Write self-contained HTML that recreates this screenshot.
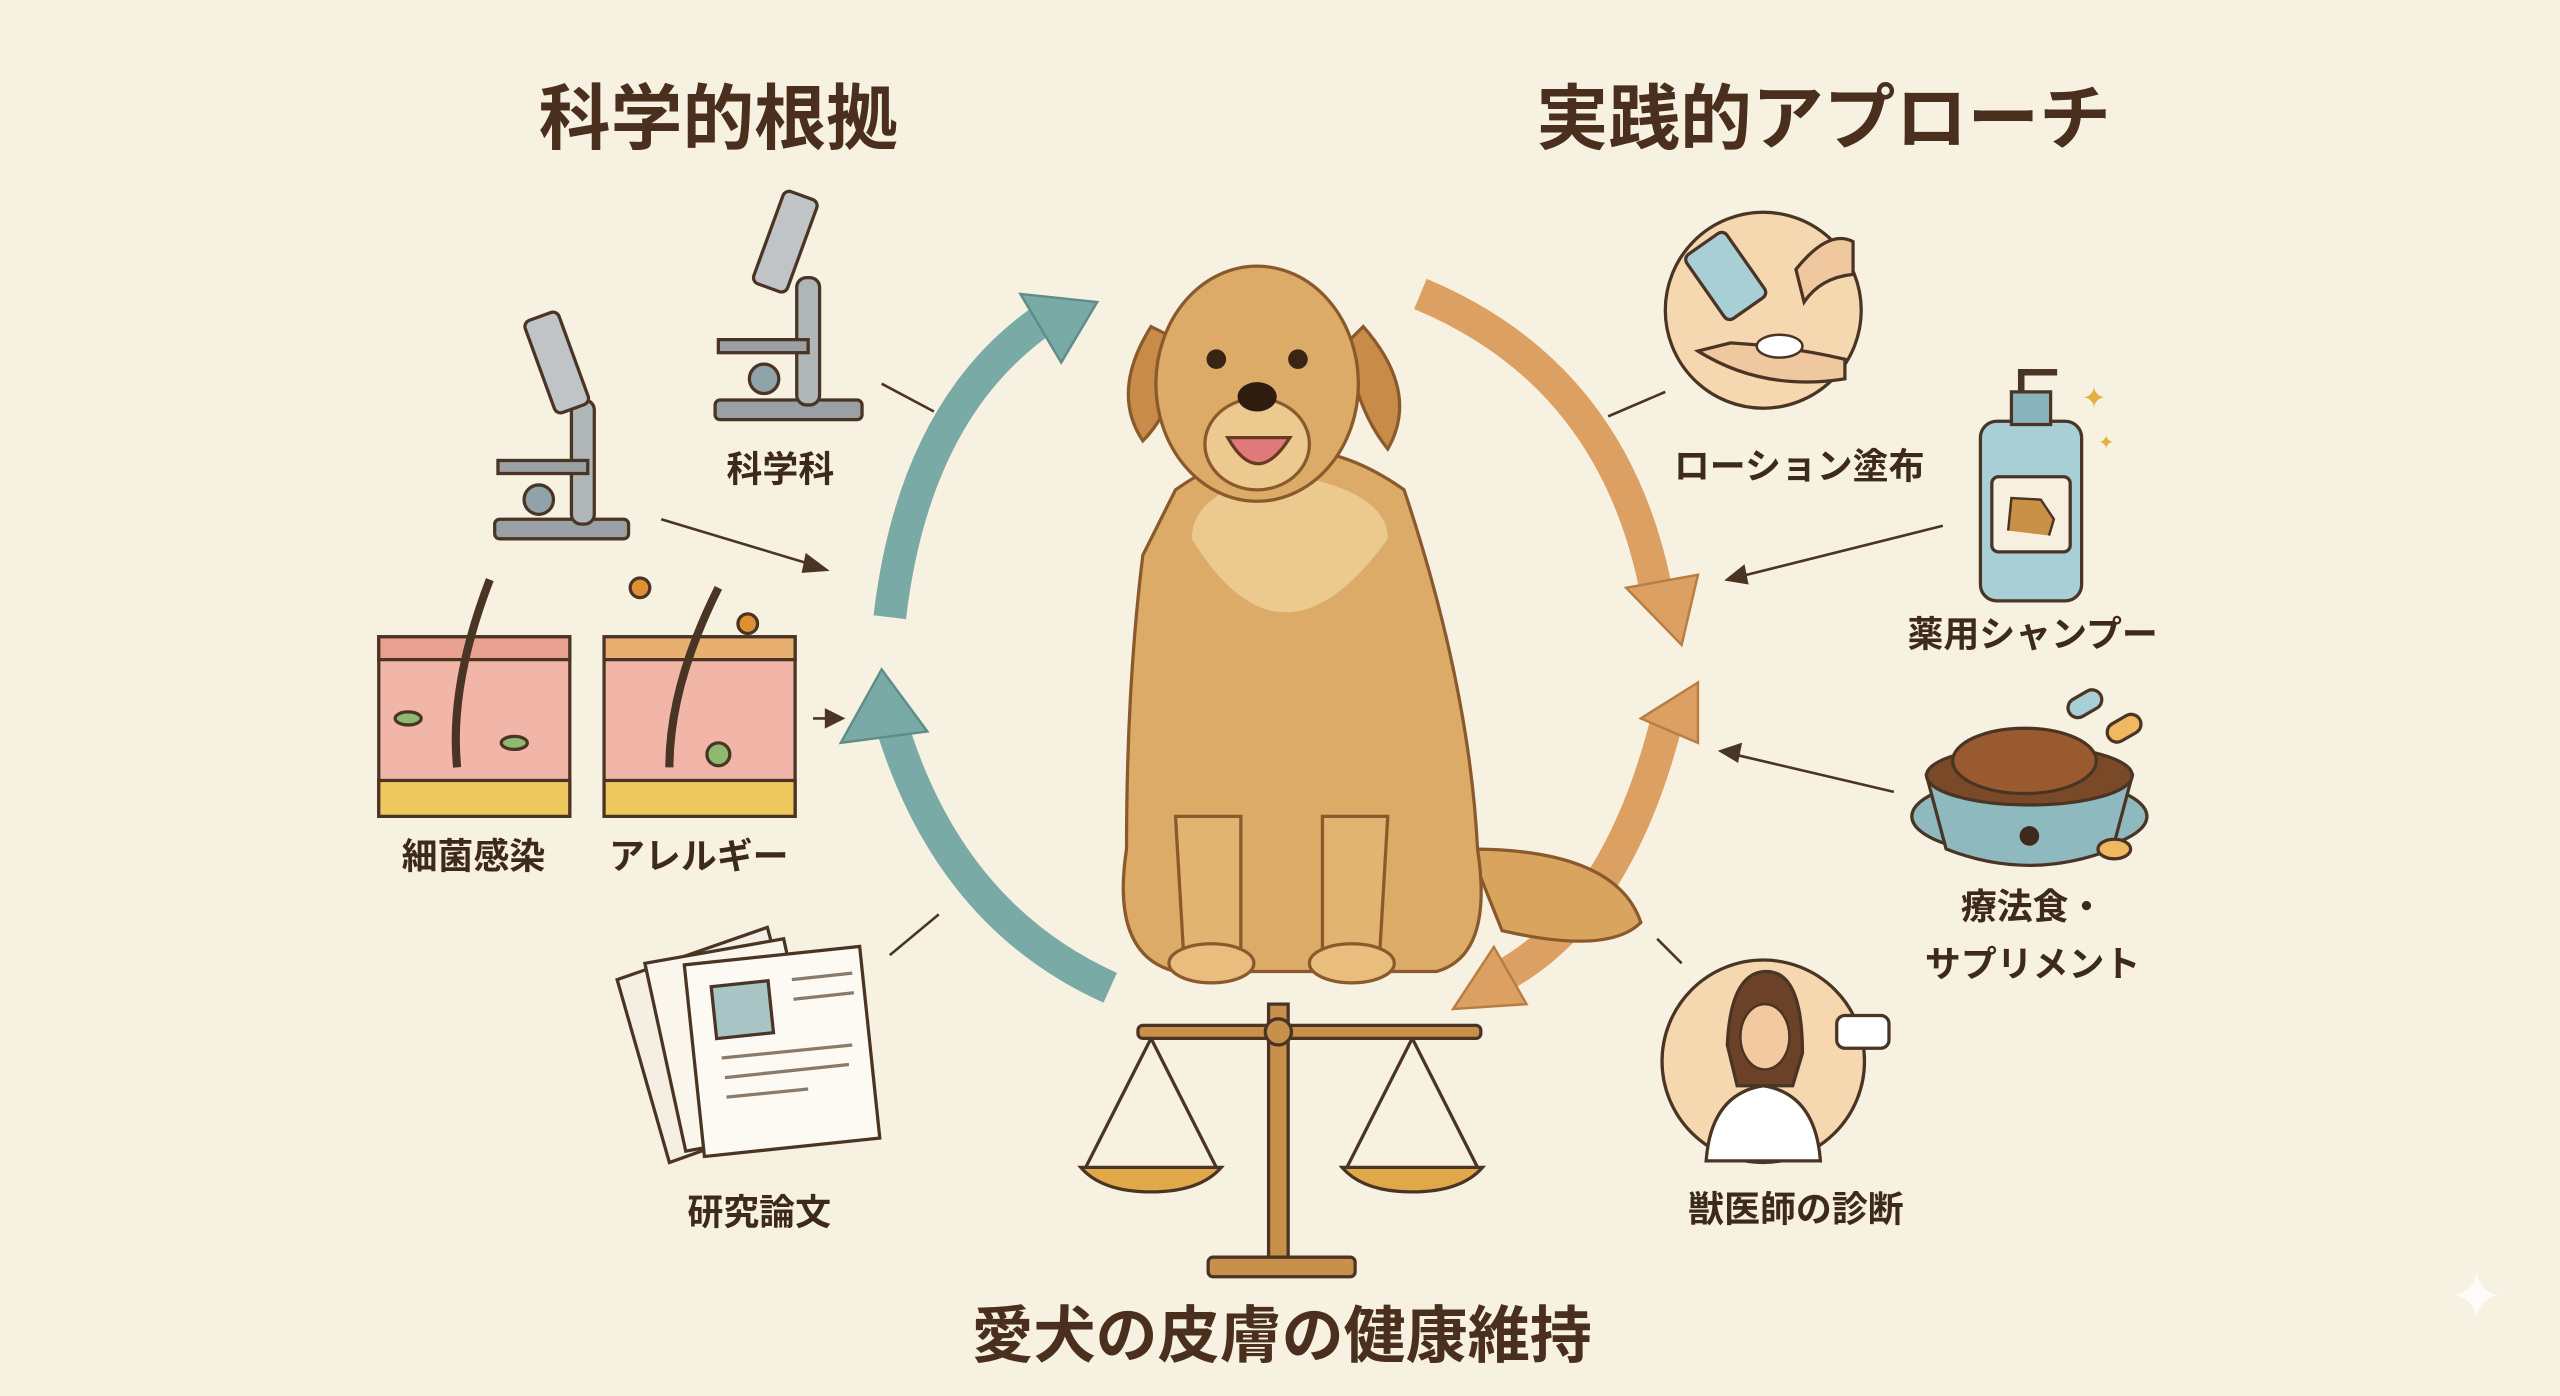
<!DOCTYPE html>
<html><head><meta charset="utf-8"><style>
html,body{margin:0;padding:0;background:#f7f1e1;}
svg{display:block;}
text{font-family:"Liberation Sans","Noto Sans CJK JP",sans-serif;fill:#3e2a1c;}
</style></head><body>
<svg width="2560" height="1396" viewBox="0 0 1568 855" xmlns="http://www.w3.org/2000/svg">
<rect width="1568" height="855" fill="#f7f1e1"/>
<!-- Titles -->
<text x="440" y="88" font-size="44" font-weight="bold" text-anchor="middle" style="fill:#4a2f1e">科学的根拠</text>
<text x="1117" y="88" font-size="44" font-weight="bold" text-anchor="middle" style="fill:#4a2f1e">実践的アプローチ</text>
<text x="785" y="831" font-size="38" font-weight="bold" text-anchor="middle" style="fill:#4a2f1e">愛犬の皮膚の健康維持</text>
<!-- labels -->
<g font-size="22" font-weight="bold" text-anchor="middle">
<text x="478" y="295">科学科</text>
<text x="290" y="532">細菌感染</text>
<text x="428" y="532">アレルギー</text>
<text x="465" y="750">研究論文</text>
<text x="1102" y="293">ローション塗布</text>
<text x="1245" y="396">薬用シャンプー</text>
<text x="1245" y="563">療法食・</text>
<text x="1245" y="598">サプリメント</text>
<text x="1100" y="748">獣医師の診断</text>
</g>
<!-- cycle arrows -->
<g fill="none" stroke-width="20" stroke-linecap="butt">
<path d="M545,378 Q560,250 640,195" stroke="#79aaa6"/>
<path d="M680,605 Q580,560 545,440" stroke="#79aaa6"/>
<path d="M870,180 Q990,230 1015,365" stroke="#dca062"/>
<path d="M1020,445 Q990,560 920,598" stroke="#dca062"/>
</g>
<g stroke="#5f8e8a" stroke-width="1.5" fill="#79aaa6">
<polygon points="672,185 625,180 650,222"/>
<polygon points="540,410 515,455 568,448"/>
</g>
<g stroke="#b87d43" stroke-width="1.5" fill="#dca062">
<polygon points="1030,395 996,360 1040,352"/>
<polygon points="1040,418 1005,440 1040,455" />
<polygon points="890,618 915,580 935,615"/>
</g>
<!-- connectors -->
<g stroke="#4a3525" stroke-width="1.6" fill="#4a3525">
<line x1="540" y1="235" x2="572" y2="252"/>
<line x1="405" y1="318" x2="498" y2="346"/><polygon points="506,349 494,340 492,350"/>
<line x1="498" y1="440" x2="508" y2="440"/><polygon points="516,440 506,435 506,445"/>
<line x1="545" y1="585" x2="575" y2="560"/>
<line x1="985" y1="255" x2="1020" y2="240"/>
<line x1="1190" y1="322" x2="1066" y2="353"/><polygon points="1058,355 1068,347 1070,357"/>
<line x1="1160" y1="485" x2="1062" y2="462"/><polygon points="1054,460 1066,456 1064,466"/>
<line x1="1015" y1="575" x2="1030" y2="590"/>
</g>
<!-- microscopes -->
<g stroke="#4a3525" stroke-width="2" fill="#9aa0a4">
<rect x="438" y="245" width="90" height="12" rx="3"/>
<rect x="488" y="170" width="14" height="78" rx="6" fill="#b0b5b8"/>
<rect x="440" y="208" width="55" height="8"/>
<rect x="470" y="118" width="22" height="60" rx="4" transform="rotate(20 481 148)" fill="#c0c4c6"/>
<circle cx="468" cy="232" r="9" fill="#8fa3a8"/>
<rect x="303" y="318" width="82" height="12" rx="3"/>
<rect x="350" y="245" width="14" height="76" rx="6" fill="#b0b5b8"/>
<rect x="305" y="282" width="55" height="8"/>
<rect x="330" y="192" width="22" height="60" rx="4" transform="rotate(-20 341 222)" fill="#c0c4c6"/>
<circle cx="330" cy="306" r="9" fill="#8fa3a8"/>
</g>
<!-- skin blocks -->
<g stroke="#4a3525" stroke-width="2">
<rect x="232" y="390" width="117" height="110" fill="#f1b6a8"/>
<rect x="232" y="390" width="117" height="14" fill="#e8a090"/>
<rect x="232" y="478" width="117" height="22" fill="#f0c860"/>
<path d="M280,470 Q275,420 300,355" fill="none" stroke-width="5"/>
<ellipse cx="250" cy="440" rx="8" ry="4" fill="#8fb870"/>
<ellipse cx="315" cy="455" rx="8" ry="4" fill="#8fb870"/>
<rect x="370" y="390" width="117" height="110" fill="#f1b6a8"/>
<rect x="370" y="390" width="117" height="14" fill="#e8b070"/>
<rect x="370" y="478" width="117" height="22" fill="#f0c860"/>
<path d="M410,470 Q410,420 440,360" fill="none" stroke-width="5"/>
<circle cx="440" cy="462" r="7" fill="#8fb870"/>
<circle cx="392" cy="360" r="6" fill="#e09030"/>
<circle cx="458" cy="382" r="6" fill="#e09030"/>
</g>
<!-- papers -->
<g stroke="#4a3525" stroke-width="2" fill="#f4efe2">
<polygon points="378,600 470,568 500,680 410,712"/>
<polygon points="395,590 480,575 505,690 420,705" fill="#faf6ec"/>
<rect x="425" y="585" width="108" height="118" transform="rotate(-6 479 644)" fill="#fdfaf3"/>
<rect x="440" y="600" width="35" height="32" fill="#a8c4c4" transform="rotate(-6 479 644)"/>
</g>
<g stroke="#8a7a6a" stroke-width="2">
<line x1="485" y1="600" x2="522" y2="596"/><line x1="486" y1="612" x2="523" y2="608"/>
<line x1="442" y1="648" x2="522" y2="640"/><line x1="444" y1="660" x2="520" y2="652"/><line x1="445" y1="672" x2="495" y2="667"/>
</g>
<!-- lotion circle -->
<circle cx="1080" cy="190" r="60" fill="#f5d7b0" stroke="#4a3525" stroke-width="2"/>
<rect x="1042" y="145" width="30" height="48" rx="4" transform="rotate(-35 1057 169)" fill="#a9cfd6" stroke="#4a3525" stroke-width="2"/>
<path d="M1040,215 Q1080,240 1130,232 L1130,220 Q1095,212 1060,210 Z" fill="#f0c8a0" stroke="#4a3525" stroke-width="2"/>
<ellipse cx="1090" cy="212" rx="14" ry="7" fill="#fff" stroke="#4a3525" stroke-width="1.5"/>
<path d="M1100,165 Q1120,140 1135,148 L1135,168 Q1115,170 1105,185 Z" fill="#f0c8a0" stroke="#4a3525" stroke-width="2"/>
<!-- bottle -->
<g stroke="#4a3525" stroke-width="2">
<rect x="1213" y="258" width="62" height="110" rx="10" fill="#a9cfd6"/>
<rect x="1232" y="240" width="24" height="20" fill="#8ab4bd"/>
<path d="M1238,240 L1238,228 L1260,228" fill="none" stroke-width="4"/>
<rect x="1220" y="292" width="48" height="46" rx="4" fill="#f7efe0"/>
<path d="M1230,325 L1232,305 L1250,306 L1258,318 L1255,328" fill="#c99048" stroke-width="1.5"/>
</g>
<text x="1275" y="250" font-size="18" style="fill:#e0b040">✦</text>
<text x="1285" y="275" font-size="12" style="fill:#e0b040">✦</text>
<!-- bowl -->
<g stroke="#4a3525" stroke-width="2">
<ellipse cx="1243" cy="500" rx="72" ry="24" fill="#8eb9bf"/>
<path d="M1180,475 L1192,520 Q1243,540 1294,520 L1306,475 Z" fill="#8eb9bf"/>
<ellipse cx="1243" cy="475" rx="63" ry="18" fill="#7a4a28"/>
<ellipse cx="1240" cy="466" rx="44" ry="20" fill="#9a5a30"/>
<rect x="1266" y="425" width="22" height="12" rx="6" fill="#a9cfd6" transform="rotate(-30 1277 431)"/>
<rect x="1290" y="440" width="22" height="12" rx="6" fill="#f0b860" transform="rotate(-30 1301 446)"/>
<ellipse cx="1295" cy="520" rx="10" ry="6" fill="#f0b860"/>
</g>
<circle cx="1243" cy="512" r="6" fill="#3e2a1c"/>
<!-- vet -->
<circle cx="1080" cy="650" r="62" fill="#f5d7b0" stroke="#4a3525" stroke-width="2"/>
<path d="M1045,711 Q1048,670 1080,665 Q1112,670 1115,711 Z" fill="#fff" stroke="#4a3525" stroke-width="2"/>
<path d="M1058,640 Q1060,595 1082,595 Q1104,595 1104,645 L1098,665 L1064,665 Z" fill="#6b4128" stroke="#4a3525" stroke-width="2"/>
<ellipse cx="1081" cy="635" rx="15" ry="20" fill="#f3c9a0" stroke="#4a3525" stroke-width="1.5"/>
<rect x="1125" y="622" width="32" height="20" rx="5" fill="#fff" stroke="#4a3525" stroke-width="2"/>
<!-- scale -->
<g stroke="#4a3525" stroke-width="2" fill="#c8904a">
<rect x="777" y="615" width="12" height="160"/>
<rect x="740" y="770" width="90" height="12" rx="3"/>
<rect x="697" y="628" width="210" height="8" rx="3"/>
<circle cx="783" cy="632" r="8"/>
<line x1="705" y1="636" x2="665" y2="715" fill="none"/><line x1="705" y1="636" x2="745" y2="715" fill="none"/>
<line x1="865" y1="636" x2="825" y2="715" fill="none"/><line x1="865" y1="636" x2="905" y2="715" fill="none"/>
<path d="M662,715 L748,715 Q735,730 705,730 Q675,730 662,715 Z" fill="#e0a848"/>
<path d="M822,715 L908,715 Q895,730 865,730 Q835,730 822,715 Z" fill="#e0a848"/>
</g>
<!-- dog -->
<g stroke="#8a5a2c" stroke-width="2">
<path d="M900,520 Q990,520 1005,565 Q985,585 920,570 Z" fill="#d9a55e"/>
<path d="M700,340 Q690,420 690,520 Q680,585 720,595 L880,595 Q915,585 905,520 Q900,420 860,300 Q790,250 720,300 Z" fill="#dcab68"/>
<path d="M730,330 Q785,420 850,330 Q850,300 785,290 Q730,300 730,330 Z" fill="#ecc98e" stroke="none"/>
<path d="M720,500 L725,585 L760,590 L760,500 Z" fill="#e2b472"/>
<path d="M810,500 L810,590 L845,585 L850,500 Z" fill="#e2b472"/>
<ellipse cx="742" cy="590" rx="26" ry="12" fill="#e8bd7e"/>
<ellipse cx="828" cy="590" rx="26" ry="12" fill="#e8bd7e"/>
<path d="M705,200 Q680,240 700,270 Q720,250 725,210 Z" fill="#c98c48"/>
<path d="M835,200 Q870,240 850,275 Q830,250 825,210 Z" fill="#c98c48"/>
<ellipse cx="770" cy="235" rx="62" ry="72" fill="#dcab68"/>
<ellipse cx="770" cy="272" rx="32" ry="28" fill="#ecc98e"/>
</g>
<circle cx="745" cy="220" r="6" fill="#3a2414"/>
<circle cx="795" cy="220" r="6" fill="#3a2414"/>
<ellipse cx="770" cy="243" rx="12" ry="9" fill="#2e1c10"/>
<path d="M752,268 Q770,300 790,268 Z" fill="#e07a7a" stroke="#6a3a20" stroke-width="2"/>
<text x="1500" y="808" font-size="40" style="fill:#ffffff;opacity:0.8">✦</text>
</svg>
</body></html>
